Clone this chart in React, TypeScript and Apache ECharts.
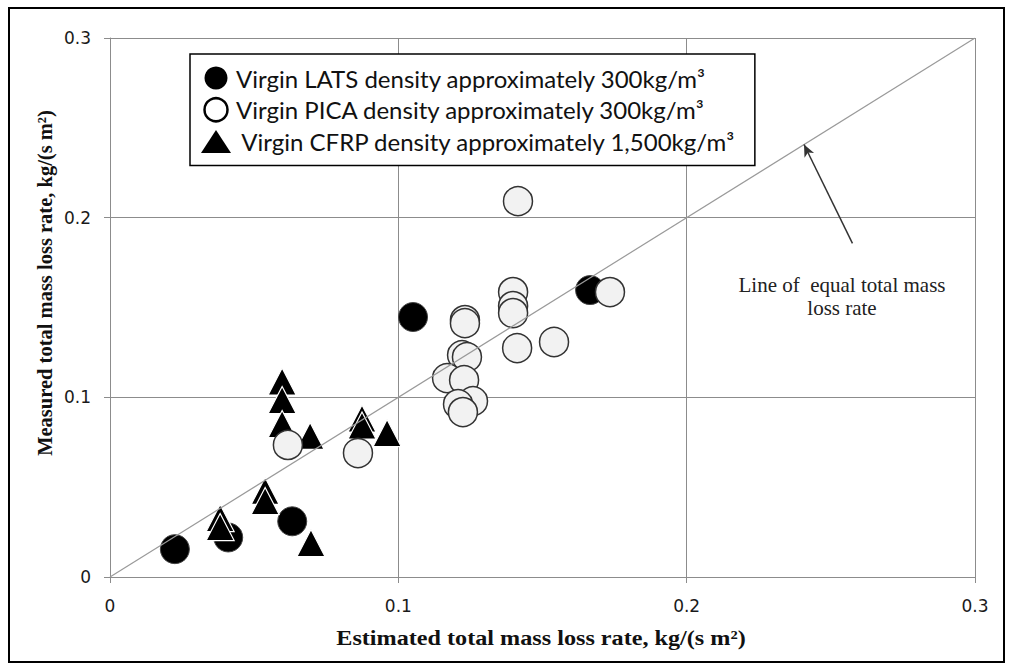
import React, { useEffect, useRef } from "react";
import * as echarts from "echarts";

const LATS = "Virgin LATS density approximately 300kg/m³";
const PICA = "Virgin PICA density approximately 300kg/m³";
const CFRP = "Virgin CFRP density approximately 1,500kg/m³";

const xTicks = [0, 0.1, 0.2, 0.3];
const yTicks = [0, 0.1, 0.2, 0.3];

const latsData: [number, number][] = [
  [0.0225, 0.0155],
  [0.041, 0.022],
  [0.0632, 0.031],
  [0.1051, 0.1447],
  [0.1665, 0.1597],
];

const cfrpData: [number, number][] = [
  [0.0597, 0.1088],
  [0.0597, 0.0985],
  [0.0597, 0.0851],
  [0.0694, 0.0785],
  [0.0874, 0.0882],
  [0.0874, 0.0843],
  [0.0961, 0.0801],
  [0.0382, 0.0328],
  [0.0382, 0.0278],
  [0.0538, 0.0479],
  [0.0538, 0.0423],
  [0.0697, 0.0189],
];

const picaData: [number, number][] = [
  [0.0617, 0.0735],
  [0.086, 0.069],
  [0.1415, 0.2092],
  [0.1734, 0.1586],
  [0.154, 0.1308],
  [0.1412, 0.1274],
  [0.1398, 0.1586],
  [0.1398, 0.1508],
  [0.1398, 0.1469],
  [0.1231, 0.143],
  [0.1231, 0.1413],
  [0.1221, 0.1235],
  [0.1238, 0.1224],
  [0.1169, 0.1107],
  [0.1228, 0.1096],
  [0.1259, 0.0979],
  [0.1207, 0.0962],
  [0.1224, 0.0918],
];

const equalLine: [number, number][] = [
  [0, 0],
  [0.3, 0.3],
];
const arrowFrom: [number, number] = [0.2575, 0.1857];
const arrowTo: [number, number] = [0.2407, 0.2407];

const xTitle = "Estimated total mass loss rate, kg/(s m²)";
const yTitle = "Measured total mass loss rate, kg/(s m²)";
const noteText = "Line of  equal total mass\nloss rate";

const GRID = "#8c8c8c";
const fmt = (v: number) => (Math.abs(v) < 1e-9 ? "0" : v.toFixed(1));

export default function App() {
  const ref = useRef<HTMLDivElement>(null);
  useEffect(() => {
    const chart = echarts.init(ref.current!, null, { renderer: "svg" });
    const axisCommon = {
      type: "value",
      min: xTicks[0],
      max: xTicks[xTicks.length - 1],
      interval: 0.1,
      axisLine: { show: true, lineStyle: { color: GRID, width: 1 } },
      axisTick: { show: true, length: 6, lineStyle: { color: GRID, width: 1 } },
      splitLine: { show: true, lineStyle: { color: GRID, width: 1 } },
    };
    chart.setOption({
      animation: false,
      backgroundColor: "#fff",
      grid: { left: 110, top: 38, right: 37, bottom: 93, containLabel: false },
      xAxis: {
        ...axisCommon,
        axisLabel: {
          formatter: fmt,
          margin: 20,
          fontFamily: "DejaVu Sans",
          fontSize: 17,
          color: "#1a1a1a",
        },
      },
      yAxis: {
        ...axisCommon,
        min: yTicks[0],
        max: yTicks[yTicks.length - 1],
        axisLabel: {
          formatter: fmt,
          margin: 19,
          fontFamily: "DejaVu Sans",
          fontSize: 17,
          color: "#1a1a1a",
        },
      },
      legend: {
        orient: "vertical",
        left: 190,
        top: 54,
        padding: [12, 18, 12, 11],
        itemGap: 7,
        itemWidth: 30,
        itemHeight: 23,
        borderColor: "#000",
        borderWidth: 1.5,
        backgroundColor: "#fff",
        selectedMode: false,
        textStyle: {
          fontFamily: "Lato",
          fontSize: 24,
          lineHeight: 24,
          color: "#111",
        },
        formatter: (name: string) => (name === CFRP ? " " + name : name),
        data: [
          { name: LATS, icon: "circle", itemStyle: { color: "#000", borderWidth: 0 } },
          {
            name: PICA,
            icon: "circle",
            itemStyle: { color: "#fff", borderColor: "#000", borderWidth: 2.5 },
          },
          { name: CFRP, icon: "triangle", itemStyle: { color: "#000", borderWidth: 0 } },
        ],
      },
      series: [
        {
          name: "equal",
          type: "line",
          data: equalLine,
          showSymbol: false,
          symbol: "none",
          silent: true,
          lineStyle: { color: "#9a9a9a", width: 1.2 },
          markLine: {
            silent: true,
            symbol: ["none", "arrow"],
            symbolSize: [8, 12],
            label: { show: false },
            lineStyle: { color: "#333", width: 1.5, type: "solid" },
            data: [[{ coord: arrowFrom }, { coord: arrowTo }]],
          },
        },
        {
          name: LATS,
          type: "scatter",
          symbol: "circle",
          symbolSize: 29,
          data: latsData,
          itemStyle: { color: "#000", borderColor: "#444", borderWidth: 1, opacity: 1 },
        },
        {
          name: CFRP,
          type: "scatter",
          symbol: "triangle",
          symbolSize: [28, 27],
          data: cfrpData,
          itemStyle: { color: "#000", borderColor: "#fff", borderWidth: 1.2, opacity: 1 },
        },
        {
          name: PICA,
          type: "scatter",
          symbol: "circle",
          symbolSize: 29,
          data: picaData,
          itemStyle: { color: "#f2f2f2", borderColor: "#333", borderWidth: 1.5, opacity: 1 },
        },
      ],
      graphic: [
        {
          type: "rect",
          shape: { x: 9, y: 8, width: 995, height: 654 },
          style: { fill: "none", stroke: "#000", lineWidth: 2 },
          silent: true,
          z: 100,
        },
        {
          type: "text",
          x: 541,
          y: 638,
          scaleX: 1.18,
          style: {
            text: xTitle,
            fontFamily: "Liberation Serif",
            fontWeight: "bold",
            fontSize: 20.5,
            fill: "#111",
            textAlign: "center",
            textVerticalAlign: "middle",
          },
        },
        {
          type: "text",
          x: 45,
          y: 283,
          rotation: Math.PI / 2,
          style: {
            text: yTitle,
            fontFamily: "Liberation Serif",
            fontWeight: "bold",
            fontSize: 20.5,
            fill: "#111",
            textAlign: "center",
            textVerticalAlign: "middle",
          },
        },
        {
          type: "text",
          x: 842,
          y: 296,
          style: {
            text: noteText,
            fontFamily: "Liberation Serif",
            fontSize: 21,
            lineHeight: 23,
            fill: "#222",
            textAlign: "center",
            textVerticalAlign: "middle",
          },
        },
      ],
    });
    return () => chart.dispose();
  }, []);
  return (
    <div
      ref={ref}
      style={{ position: "fixed", left: 0, top: 0, width: 1012, height: 670, background: "#fff" }}
    />
  );
}
